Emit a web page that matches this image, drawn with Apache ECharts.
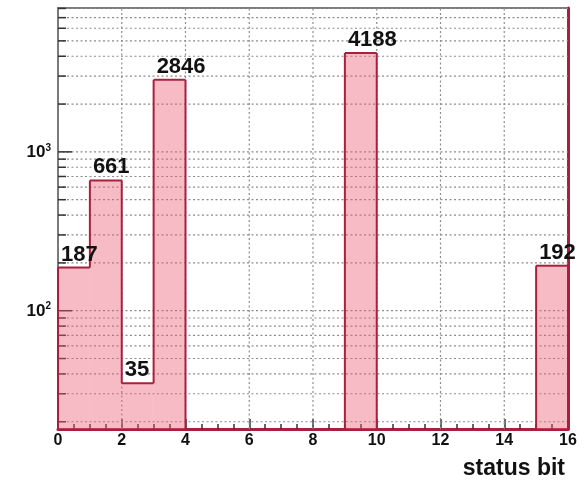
<!DOCTYPE html>
<html>
<head>
<meta charset="utf-8">
<script src="https://cdn.jsdelivr.net/npm/echarts@6/dist/echarts.min.js"></script>
<style>
  html, body { margin: 0; padding: 0; background: #fff; }
  #chart { width: 587px; height: 480px; }
</style>
</head>
<body>
<div id="chart"></div>
<script>
// Counts per status bit (bins of width 1, bit 0 .. 15)
const statusBits = [0, 1, 2, 3, 4, 5, 6, 7, 8, 9, 10, 11, 12, 13, 14, 15];
const counts     = [187, 661, 35, 2846, 0, 0, 0, 0, 0, 4188, 0, 0, 0, 0, 0, 192];

// Axis settings
const xTickLabels = [0, 2, 4, 6, 8, 10, 12, 14, 16];
const yDecades = [100, 1000];
const Y_MIN = 18, Y_MAX = 8050;
const X_MIN = 0, X_MAX = 16;

// Log-scale grid values (2..9 x 10^n inside the visible range)
const yGridValues = [];
for (let d = 10; d <= 1000; d *= 10) {
  for (let m = 1; m <= 9; m++) {
    const v = m * d;
    if (v > Y_MIN && v < Y_MAX) yGridValues.push(v);
  }
}
const xGridValues = xTickLabels.filter(v => v > X_MIN && v < X_MAX);

const LINE_RED = '#a8203c';
const FILL_PINK = 'rgba(236, 92, 118, 0.42)';
const GRID_GRAY = '#8c8c8c';
const FONT = '"Liberation Sans", Arial, Helvetica, sans-serif';

const chart = echarts.init(document.getElementById('chart'));

function clampY(v) { return Math.max(v, Y_MIN); }

chart.setOption({
  animation: false,
  backgroundColor: '#fff',
  grid: {
    left: 58, right: 19, top: 8, bottom: 51,
    show: true, borderColor: '#7a7a7a', borderWidth: 2, backgroundColor: '#fff'
  },
  xAxis: [{
    type: 'value', min: X_MIN, max: X_MAX, interval: 2,
    name: 'status bit', nameLocation: 'end', nameGap: 0,
    nameTextStyle: {
      fontFamily: FONT, fontWeight: 'bold', fontSize: 23, color: '#111',
      align: 'right', verticalAlign: 'top', padding: [28, 3, 0, 0]
    },
    axisLine: { show: true, onZero: false, lineStyle: { color: LINE_RED, width: 3 } },
    axisTick: { show: true, inside: true, length: 10, lineStyle: { color: '#333', width: 1.5 } },
    minorTick: { show: true, splitNumber: 4, length: 5, lineStyle: { color: '#333', width: 1.5 } },
    splitLine: { show: false },
    axisLabel: {
      margin: 4, fontFamily: FONT, fontWeight: 'bold', fontSize: 16, color: '#111',
      formatter: v => String(v)
    }
  }],
  yAxis: [{
    type: 'log', logBase: 10, min: Y_MIN, max: Y_MAX,
    axisLine: { show: true, lineStyle: { color: '#7a7a7a', width: 2 } },
    axisTick: { show: false },
    splitLine: { show: false },
    axisLabel: {
      margin: 7,
      formatter: v => yDecades.indexOf(Math.round(v)) >= 0
        ? '{b|10}{s|' + Math.round(Math.log10(v)) + '}' : '',
      rich: {
        b: { fontFamily: FONT, fontWeight: 'bold', fontSize: 17, color: '#111', lineHeight: 18, verticalAlign: 'bottom' },
        s: { fontFamily: FONT, fontWeight: 'bold', fontSize: 10, color: '#111', lineHeight: 18, verticalAlign: 'top', padding: [0, 0, 6, 0] }
      }
    }
  }, {
    type: 'log', logBase: 10, min: Y_MIN, max: Y_MAX, position: 'right',
    axisLine: { show: true, lineStyle: { color: LINE_RED, width: 3 } },
    axisTick: { show: false }, axisLabel: { show: false }, splitLine: { show: false }
  }],
  series: [
    // horizontal dotted grid and left-side log ticks
    {
      type: 'custom', z: 1, silent: true,
      data: yGridValues,
      renderItem: function (params, api) {
        const v = api.value(0);
        const a = api.coord([X_MIN, v]);
        const b = api.coord([X_MAX, v]);
        const major = yDecades.indexOf(v) >= 0;
        return {
          type: 'group',
          children: [
            { type: 'line', shape: { x1: a[0], y1: a[1], x2: b[0], y2: b[1] },
              style: { stroke: GRID_GRAY, lineWidth: 1.2, lineDash: [2, 2.5] } },
            { type: 'line', shape: { x1: a[0], y1: a[1], x2: a[0] + (major ? 14 : 8), y2: a[1] },
              style: { stroke: '#333', lineWidth: 1.5 } }
          ]
        };
      }
    },
    // vertical dotted grid
    {
      type: 'custom', z: 1, silent: true,
      data: xGridValues,
      renderItem: function (params, api) {
        const v = api.value(0);
        const a = api.coord([v, Y_MIN]);
        const b = api.coord([v, Y_MAX]);
        return {
          type: 'line', shape: { x1: a[0], y1: a[1], x2: b[0], y2: b[1] },
          style: { stroke: GRID_GRAY, lineWidth: 1.2, lineDash: [2, 2.5] }
        };
      }
    },
    // histogram fill, step outline and bin text
    {
      type: 'custom', z: 3, silent: true,
      data: statusBits.map((b, i) => [b, counts[i]]),
      encode: { x: 0, y: 1 },
      renderItem: function (params, api) {
        const i = params.dataIndexInside;
        const bit = api.value(0);
        const n = api.value(1);
        const prev = i > 0 ? counts[i - 1] : 0;
        const children = [];
        const lo = api.coord([bit, Y_MIN]);
        const hi = api.coord([bit + 1, clampY(n)]);
        if (n > 0) {
          children.push({
            type: 'rect',
            shape: { x: lo[0], y: hi[1], width: hi[0] - lo[0], height: lo[1] - hi[1] },
            style: { fill: FILL_PINK }
          });
          children.push({
            type: 'line', shape: { x1: lo[0], y1: hi[1], x2: hi[0], y2: hi[1] },
            style: { stroke: LINE_RED, lineWidth: 2 }
          });
          children.push({
            type: 'text', z2: 10,
            style: {
              text: String(n), x: lo[0] + 3, y: hi[1] - 2,
              textAlign: 'left', textVerticalAlign: 'bottom',
              font: 'bold 22px ' + FONT, fill: '#111'
            }
          });
        }
        // vertical step between previous bin and this one
        const y0 = api.coord([bit, clampY(prev)])[1];
        const y1 = api.coord([bit, clampY(n)])[1];
        if (Math.abs(y0 - y1) > 0.5) {
          children.push({
            type: 'line', shape: { x1: lo[0], y1: y0, x2: lo[0], y2: y1 },
            style: { stroke: LINE_RED, lineWidth: 2 }
          });
        }
        if (i === counts.length - 1 && n > 0) {
          children.push({
            type: 'line', shape: { x1: hi[0], y1: hi[1], x2: hi[0], y2: lo[1] },
            style: { stroke: LINE_RED, lineWidth: 2 }
          });
        }
        return { type: 'group', children: children };
      }
    }
  ]
});
</script>
</body>
</html>
